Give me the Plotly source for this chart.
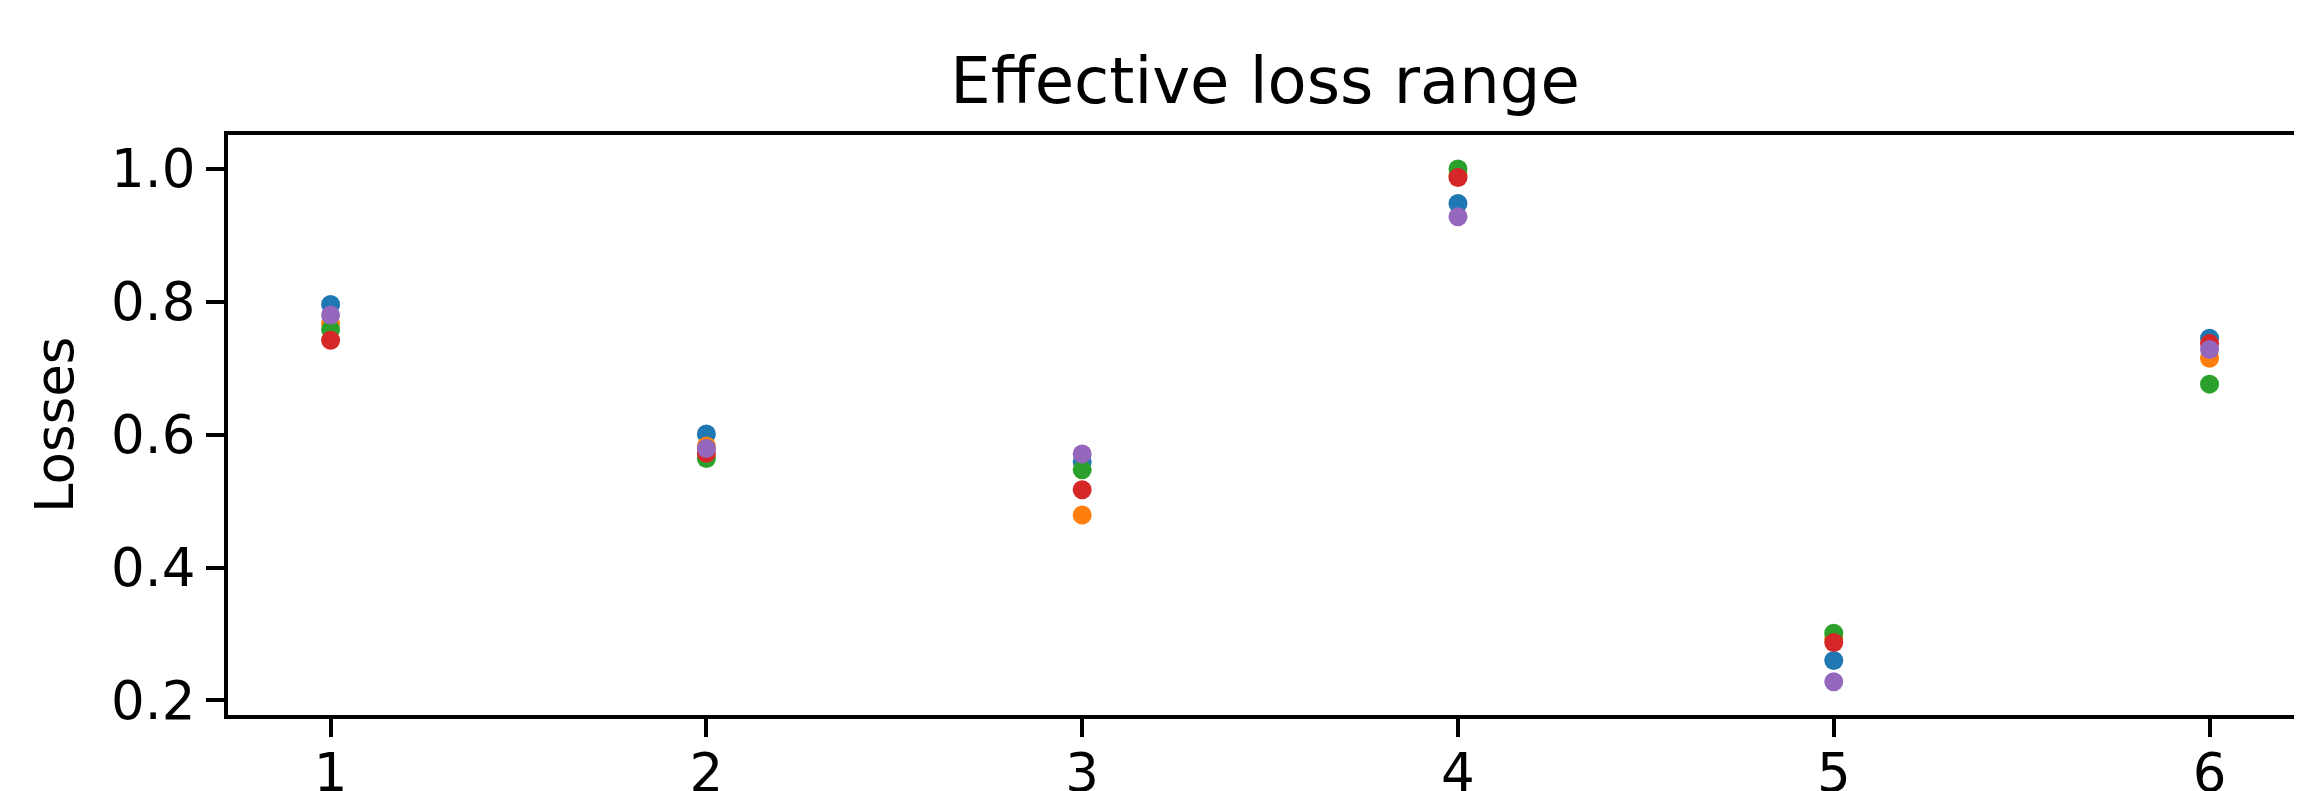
import plotly.graph_objects as go

epochs = [1, 2, 3, 4, 5, 6]
series_names = ["run 1", "run 2", "run 3", "run 4", "run 5"]
blue = [0.796, 0.601, 0.559, 0.948, 0.260, 0.745]
orange = [0.767, 0.583, 0.479, 0.990, 0.293, 0.715]
green = [0.758, 0.564, 0.547, 1.000, 0.301, 0.676]
red = [0.742, 0.572, 0.517, 0.987, 0.287, 0.737]
purple = [0.780, 0.579, 0.571, 0.928, 0.228, 0.728]
y_ticks = [0.2, 0.4, 0.6, 0.8, 1.0]
y_tick_labels = ["0.2", "0.4", "0.6", "0.8", "1.0"]
x_ticks = [1, 2, 3, 4, 5, 6]

colors = ["#1f77b4", "#ff7f0e", "#2ca02c", "#d62728", "#9467bd"]
all_series = [blue, orange, green, red, purple]

fig = go.Figure()
for name, vals, col in zip(series_names, all_series, colors):
    fig.add_trace(go.Scatter(
        x=epochs, y=vals, mode="markers", name=name,
        marker=dict(color=col, size=19, line=dict(width=0)),
        showlegend=False,
    ))

font_family = "DejaVu Sans"
W, H = 2294, 783          # page body has an 8px offset
L, T = 220, 127
PLOT_W, PLOT_H = 2074, 580
fig.update_layout(
    width=W, height=H,
    margin=dict(l=L, r=W - L - PLOT_W, t=T, b=H - T - PLOT_H, autoexpand=False),
    paper_bgcolor="white", plot_bgcolor="white",
    font=dict(family=font_family, color="black", size=53),
    title=dict(text="Effective loss range", x=0.5, xref="paper",
               y=1 - 73 / H, yref="container", yanchor="middle",
               xanchor="center", automargin=False,
               font=dict(size=64, family=font_family)),
    xaxis=dict(range=[0.727, 6.246], tickvals=x_ticks, automargin=False,
               showgrid=False, zeroline=False,
               showline=True, linecolor="black", linewidth=4, mirror=True,
               ticks="outside", ticklen=18, tickwidth=4, tickcolor="black",
               ticklabelstandoff=-10,
               tickfont=dict(size=53, family=font_family)),
    yaxis=dict(range=[0.178, 1.051], tickvals=y_ticks, ticktext=y_tick_labels,
               automargin=False,
               showgrid=False, zeroline=False,
               showline=True, linecolor="black", linewidth=4, mirror=False,
               ticks="outside", ticklen=18, tickwidth=4, tickcolor="black",
               tickfont=dict(size=53, family=font_family)),
    annotations=[dict(text="Losses", x=(46 - L) / PLOT_W, xref="paper",
                      y=0.5, yref="paper", xanchor="center", yanchor="middle",
                      textangle=-90, showarrow=False,
                      font=dict(size=53, family=font_family))],
)

fig.write_html("out.html")
